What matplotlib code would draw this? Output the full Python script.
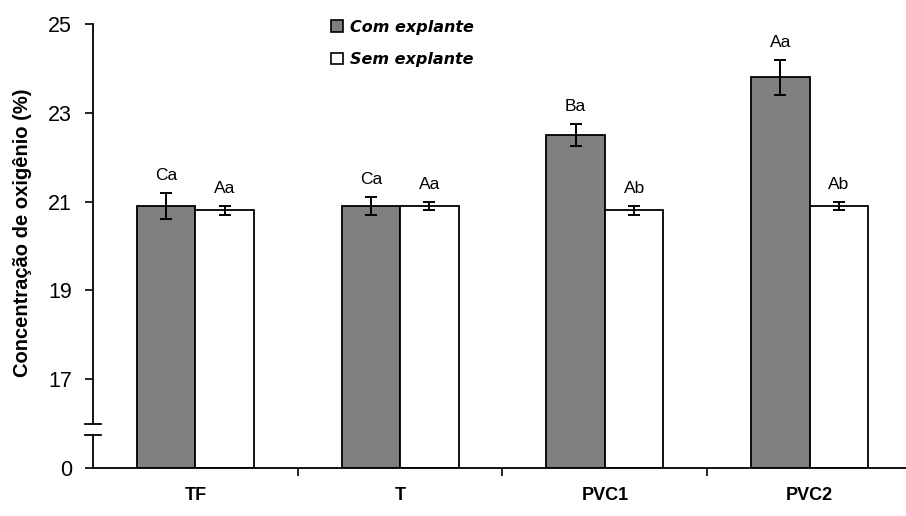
import matplotlib.pyplot as plt
from matplotlib.patches import Patch

plt.rcParams['font.family'] = ['Liberation Sans', 'DejaVu Sans']

categories = ['TF', 'T', 'PVC1', 'PVC2']
com_explante = [20.9, 20.9, 22.5, 23.8]
com_err = [0.3, 0.2, 0.25, 0.4]
sem_explante = [20.8, 20.9, 20.8, 20.9]
sem_err = [0.1, 0.1, 0.1, 0.1]
com_letras = ['Ca', 'Ca', 'Ba', 'Aa']
sem_letras = ['Aa', 'Aa', 'Ab', 'Ab']

y_ticks = [15, 17, 19, 21, 23, 25]
y_tick_labels = ['0', '17', '19', '21', '23', '25']
base = 15  # eixo quebrado: o "0" fica na posicao 15


def plot_chart():
    fig = plt.figure(figsize=(9.06, 5.16), dpi=100)
    ax = fig.add_axes([0.1026, 0.093, 0.904, 0.8605])

    w = 0.286
    x = list(range(len(categories)))
    xc = [i - w / 2 for i in x]
    xs = [i + w / 2 for i in x]

    ax.bar(xc, [v - base for v in com_explante], width=w, bottom=base,
           color='#808080', edgecolor='black', linewidth=1.3, zorder=2)
    ax.bar(xs, [v - base for v in sem_explante], width=w, bottom=base,
           color='white', edgecolor='black', linewidth=1.3, zorder=2)
    ax.errorbar(xc, com_explante, yerr=com_err, fmt='none', ecolor='black',
                elinewidth=1.4, capsize=4, capthick=1.4, zorder=3)
    ax.errorbar(xs, sem_explante, yerr=sem_err, fmt='none', ecolor='black',
                elinewidth=1.4, capsize=4, capthick=1.4, zorder=3)

    for px, v, e, t in zip(xc, com_explante, com_err, com_letras):
        ax.annotate(t, (px, v + e), xytext=(0, 7), textcoords='offset points',
                    ha='center', va='bottom', fontsize=12.5)
    for px, v, e, t in zip(xs, sem_explante, sem_err, sem_letras):
        ax.annotate(t, (px, v + e), xytext=(0, 7), textcoords='offset points',
                    ha='center', va='bottom', fontsize=12.5)

    ax.set_xlim(-0.5, 3.5)
    ax.set_ylim(base, 25)
    ax.set_yticks(y_ticks)
    ax.set_yticklabels(y_tick_labels, fontsize=15.5)
    ax.set_xticks(x)
    ax.set_xticklabels(categories, fontsize=13, fontweight='bold')
    ax.set_xticks([0.5, 1.5, 2.5], minor=True)
    ax.tick_params(axis='x', which='major', length=0, pad=14)
    ax.tick_params(axis='x', which='minor', length=6, width=1.2)
    ax.tick_params(axis='y', length=6, width=1.2, pad=9)
    ax.set_ylabel('Concentração de oxigênio (%)', fontsize=14.5, fontweight='bold')
    ax.yaxis.set_label_coords(-0.0745, 0.53)

    for s in ['top', 'right', 'left']:
        ax.spines[s].set_visible(False)
    ax.spines['bottom'].set_linewidth(1.3)

    # eixo y com quebra
    tr = ax.get_yaxis_transform()
    ax.plot([0, 0], [base, 15.74], color='black', lw=1.3, transform=tr, clip_on=False)
    ax.plot([0, 0], [15.99, 25], color='black', lw=1.3, transform=tr, clip_on=False)
    for yb in [15.74, 15.99]:
        ax.plot([-0.0098, 0.0098], [yb, yb], color='black', lw=1.3, transform=tr, clip_on=False)

    handles = [Patch(facecolor='#808080', edgecolor='black', linewidth=1.2),
               Patch(facecolor='white', edgecolor='black', linewidth=1.2)]
    ax.legend(handles, ['Com explante', 'Sem explante'], loc='upper left',
              bbox_to_anchor=(0.35, 0.99), bbox_transform=fig.transFigure,
              frameon=False, handlelength=0.75, handleheight=0.75, handletextpad=0.4,
              labelspacing=1.1,
              prop={'family': 'DejaVu Sans', 'size': 11.5, 'weight': 'bold', 'style': 'italic'})

    fig.savefig('out.png', dpi=100)


if __name__ == "__main__":
    plot_chart()
